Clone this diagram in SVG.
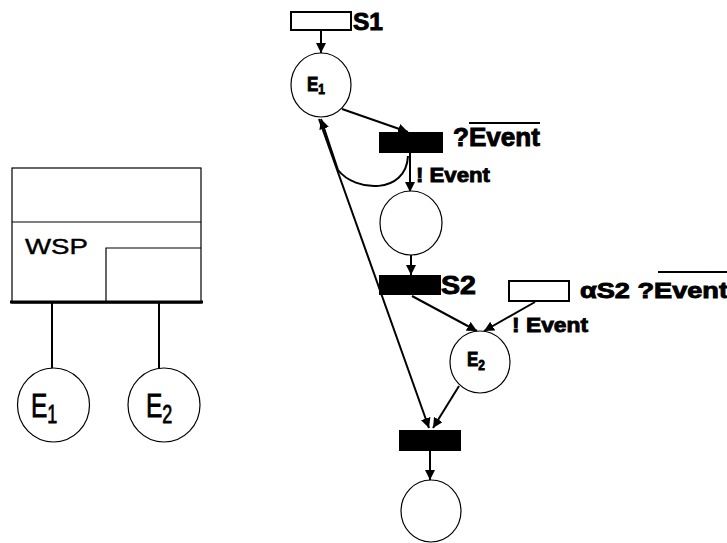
<svg xmlns="http://www.w3.org/2000/svg" width="727" height="543" viewBox="0 0 727 543">
<style>
.place{fill:#fff;stroke:#000;stroke-width:1.2}
.trans{fill:#000;stroke:none}
.lbl{fill:#fff;stroke:#000;stroke-width:2}
.conn{fill:none;stroke:#000;stroke-width:2}
.thin{fill:none;stroke:#000;stroke-width:1.2}
.b{font-family:"Liberation Sans",Arial,sans-serif;font-weight:bold;fill:#000;stroke:#000;stroke-width:0.9}
.r{font-family:"Liberation Sans",Arial,sans-serif;fill:#000}
</style>
<defs>
<marker id="ah" markerUnits="userSpaceOnUse" markerWidth="10" markerHeight="10" refX="10" refY="5" orient="auto" viewBox="0 0 10 10">
<path d="M0,0 L10,5 L0,10 z" fill="#000"/>
</marker>
</defs>
<rect width="727" height="543" fill="#fff"/>

<g id="wsp">
<rect x="12" y="168" width="189" height="135" class="thin"/>
<line x1="12" y1="222" x2="201" y2="222" class="thin"/>
<path d="M106,303 V248 H201" class="thin"/>
<line x1="10" y1="302" x2="203" y2="302" stroke="#000" stroke-width="3"/>
<text x="25" y="254" class="r" font-size="22" textLength="63" lengthAdjust="spacingAndGlyphs" stroke="#000" stroke-width="0.4">WSP</text>
</g>
<g id="left-conn">
<line x1="52" y1="303" x2="52" y2="369" class="conn"/>
<line x1="159" y1="303" x2="159" y2="368" class="conn"/>
</g>
<g id="leftE1">
<ellipse cx="53.5" cy="405" rx="36" ry="37" class="place"/>
<text transform="translate(31,417) scale(0.72,1)" class="r" font-size="34" stroke="#000" stroke-width="0.8">E<tspan font-size="25" dy="6">1</tspan></text>
</g>
<g id="leftE2">
<ellipse cx="164" cy="405" rx="36" ry="37" class="place"/>
<text transform="translate(146,417) scale(0.72,1)" class="r" font-size="34" stroke="#000" stroke-width="0.8">E<tspan font-size="25" dy="6">2</tspan></text>
</g>

<g id="connectors">
<line x1="321" y1="30" x2="321" y2="53" class="conn" marker-end="url(#ah)"/>
<line x1="342" y1="109" x2="408" y2="132" class="conn" marker-end="url(#ah)"/>
<line x1="410" y1="153" x2="410" y2="192" class="conn" marker-end="url(#ah)"/>
<path d="M408,156 C406,195 355,192 338,170 L321,119" class="conn" marker-end="url(#ah)"/>
<line x1="319" y1="119" x2="429" y2="428" class="conn" marker-end="url(#ah)"/>
<line x1="411" y1="255" x2="411" y2="275" class="conn" marker-end="url(#ah)"/>
<line x1="412" y1="296" x2="477" y2="331" class="conn" marker-end="url(#ah)"/>
<line x1="535" y1="302" x2="484" y2="331" class="conn" marker-end="url(#ah)"/>
<line x1="459" y1="386" x2="433" y2="428" class="conn" marker-end="url(#ah)"/>
<line x1="430" y1="451" x2="430" y2="480" class="conn" marker-end="url(#ah)"/>
</g>

<g id="S1">
<rect x="291" y="12" width="60" height="18" class="lbl"/>
<text x="353" y="30" class="b" font-size="24" textLength="30" lengthAdjust="spacingAndGlyphs">S1</text>
</g>
<g id="E1">
<ellipse cx="321" cy="85" rx="30" ry="32" class="place"/>
<text transform="translate(307,91) scale(0.85,1)" class="b" font-size="20" stroke-width="0.5">E<tspan font-size="14" dy="3">1</tspan></text>
</g>
<g id="T1">
<rect x="379" y="132" width="64" height="21" class="trans"/>
<text x="453" y="146" class="b" font-size="25" textLength="87" lengthAdjust="spacingAndGlyphs">?Event</text>
<line x1="469" y1="123" x2="540" y2="123" stroke="#000" stroke-width="2"/>
<text x="416" y="182" class="b" font-size="21" textLength="74" lengthAdjust="spacingAndGlyphs">! Event</text>
</g>
<g id="P2">
<ellipse cx="411" cy="223" rx="31" ry="32" class="place"/>
</g>
<g id="S2">
<rect x="379" y="275" width="62" height="20" class="trans"/>
<text x="441" y="294" class="b" font-size="25" textLength="35" lengthAdjust="spacingAndGlyphs">S2</text>
</g>
<g id="aS2">
<rect x="509" y="281" width="60" height="20" class="lbl"/>
<text x="580" y="298" class="b" font-size="22" textLength="148" lengthAdjust="spacingAndGlyphs">αS2 ?Event</text>
<line x1="658" y1="272" x2="727" y2="272" stroke="#000" stroke-width="2"/>
<text x="512" y="332" class="b" font-size="21" textLength="76" lengthAdjust="spacingAndGlyphs">! Event</text>
</g>
<g id="E2">
<ellipse cx="480" cy="362" rx="30" ry="31" class="place"/>
<text transform="translate(467,366) scale(0.85,1)" class="b" font-size="20" stroke-width="0.5">E<tspan font-size="14" dy="4">2</tspan></text>
</g>
<g id="T3">
<rect x="399" y="430" width="62" height="21" class="trans"/>
</g>
<g id="P4">
<ellipse cx="431" cy="511" rx="30" ry="31" class="place"/>
</g>
</svg>
